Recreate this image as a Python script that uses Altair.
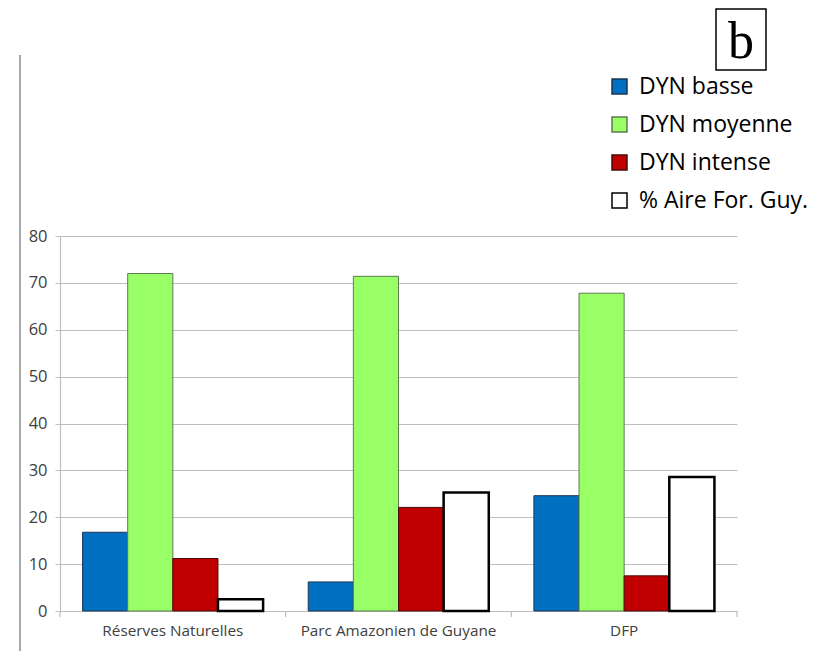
import altair as alt
import pandas as pd

sites = ["Réserves Naturelles", "Parc Amazonien de Guyane", "DFP"]
series = ["DYN basse", "DYN moyenne", "DYN intense", "% Aire For. Guy."]
dyn_basse = [16.8, 6.2, 24.6]
dyn_moyenne = [72.0, 71.4, 67.8]
dyn_intense = [11.2, 22.1, 7.5]
aire_for = [2.5, 25.3, 28.6]
y_ticks = [0, 10, 20, 30, 40, 50, 60, 70, 80]

fills = ["#0070C0", "#99FF66", "#C00000", "#FFFFFF"]
strokes = ["#1d3550", "#5f7a52", "#4a0a0a", "#000000"]

rows = []
for vals, s in zip([dyn_basse, dyn_moyenne, dyn_intense, aire_for], series):
    for site, v in zip(sites, vals):
        rows.append({"site": site, "series": s, "value": v})
df = pd.DataFrame(rows)

W, H = 677, 375

x_scale = alt.Scale(paddingInner=0, paddingOuter=0)

bars = alt.Chart(df).mark_bar().encode(
    x=alt.X("site:N", sort=sites, scale=x_scale, title=None),
    xOffset=alt.XOffset("series:N", sort=series,
                        scale=alt.Scale(paddingOuter=0.5, paddingInner=0)),
    y=alt.Y("value:Q", scale=alt.Scale(domain=[0, 80]), title=None,
            axis=alt.Axis(values=y_ticks)),
    fill=alt.Fill("series:N", sort=series,
                  scale=alt.Scale(domain=series, range=fills),
                  legend=alt.Legend(title=None)),
    stroke=alt.Stroke("series:N", sort=series,
                      scale=alt.Scale(domain=series, range=strokes),
                      legend=alt.Legend(title=None)),
    strokeWidth=alt.condition(alt.datum.series == "% Aire For. Guy.",
                              alt.value(2.5), alt.value(1)),
)

tick_df = pd.DataFrame({"site": sites})
cat_ticks = alt.Chart(tick_df).mark_rule(color="#bfbfbf", strokeWidth=1.2).encode(
    x=alt.X("site:N", sort=sites, bandPosition=0, scale=x_scale, title=None),
    y=alt.value(H), y2=alt.value(H + 6),
)
end_tick = alt.Chart(tick_df.head(1)).mark_rule(color="#bfbfbf", strokeWidth=1.2).encode(
    x=alt.value(W), y=alt.value(H), y2=alt.value(H + 6),
)

left_line = alt.Chart(tick_df.head(1)).mark_rule(color="#8c8c8c", strokeWidth=1.5).encode(
    x=alt.value(-40), y=alt.value(-181), y2=alt.value(H + 60),
)

box = alt.Chart(tick_df.head(1)).mark_rect(fill="white", stroke="black", strokeWidth=1.5).encode(
    x=alt.value(656), x2=alt.value(706), y=alt.value(-227), y2=alt.value(-166),
)
letter = alt.Chart(pd.DataFrame({"label": ["b"]})).mark_text(
    font="Liberation Serif", fontSize=52, color="black", baseline="alphabetic", align="center"
).encode(x=alt.value(681), y=alt.value(-178), text="label:N")

chart = alt.layer(left_line, bars, cat_ticks, end_tick, box, letter).properties(
    width=W, height=H,
    autosize=alt.AutoSizeParams(type="none"),
    padding={"left": 52, "top": 228, "right": 76, "bottom": 40},
).configure_view(stroke=None).configure_axisX(
    labelAngle=0, ticks=False, domain=True, grid=False,
    domainColor="#bfbfbf", domainWidth=1.2,
    labelFont="Open Sans", labelFontSize=15.3, labelLimit=400,
    labelColor="#404040", labelPadding=12,
).configure_axisY(
    grid=True, gridColor="#bfbfbf", gridWidth=1,
    domainColor="#bfbfbf", domainWidth=1.2,
    tickColor="#bfbfbf", tickSize=5,
    labelFont="Open Sans", labelFontSize=16.5,
    labelColor="#404040", labelPadding=8,
).configure_legend(
    orient="none", legendX=548, legendY=-161, padding=0,
    labelFont="Open Sans", labelFontSize=23, labelColor="black",
    symbolType="square", symbolSize=225, symbolStrokeWidth=1.5,
    rowPadding=14, labelOffset=8, labelLimit=300,
)

chart.save("out.html", embed_options={"renderer": "svg", "actions": False})
